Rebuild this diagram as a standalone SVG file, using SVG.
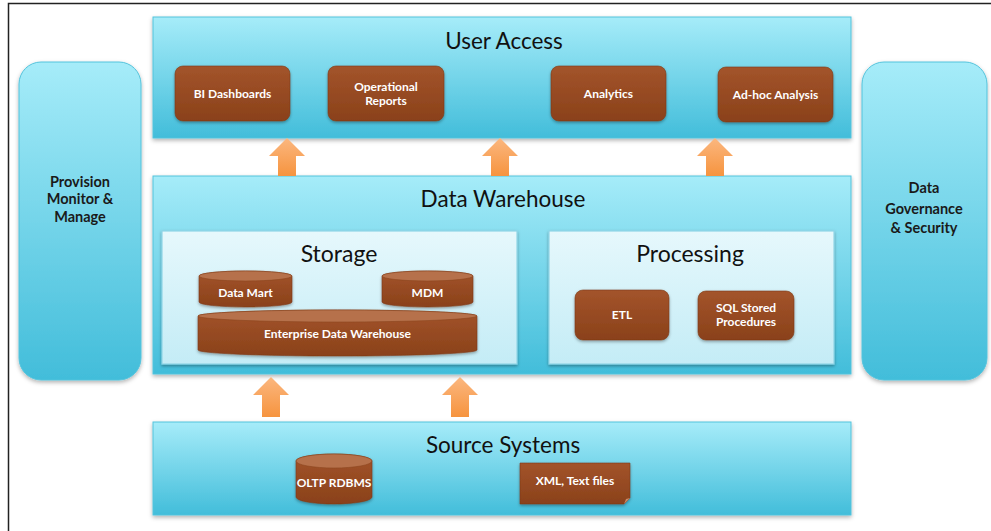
<svg xmlns="http://www.w3.org/2000/svg" width="991" height="531" viewBox="0 0 991 531">
  <defs>
    <linearGradient id="cyan" x1="0" y1="0" x2="0" y2="1">
      <stop offset="0" stop-color="#a6ecf9"/>
      <stop offset="1" stop-color="#42bdda"/>
    </linearGradient>
    <linearGradient id="pale" x1="0" y1="0" x2="0" y2="1">
      <stop offset="0" stop-color="#e6f8fc"/>
      <stop offset="1" stop-color="#c4ecf6"/>
    </linearGradient>
    <linearGradient id="brown" x1="0" y1="0" x2="0" y2="1">
      <stop offset="0" stop-color="#a3542b"/>
      <stop offset="1" stop-color="#8a411a"/>
    </linearGradient>
    <linearGradient id="orange" x1="0" y1="0" x2="0" y2="1">
      <stop offset="0" stop-color="#fbb77f"/>
      <stop offset="1" stop-color="#f6943f"/>
    </linearGradient>
    <filter id="shadow" x="-10%" y="-10%" width="120%" height="130%">
      <feDropShadow dx="0" dy="2" stdDeviation="2" flood-color="#000" flood-opacity="0.3"/>
    </filter>
    <filter id="soft" x="-10%" y="-10%" width="120%" height="130%">
      <feDropShadow dx="0" dy="1.5" stdDeviation="1.5" flood-color="#000" flood-opacity="0.35"/>
    </filter>
  </defs>
  <style>
    .layer { fill: url(#cyan); stroke: #53c3dc; stroke-width: 1; filter: url(#shadow); }
    .inner { fill: url(#pale); stroke: #8fd5e7; stroke-width: 1.2; filter: url(#soft); }
    .box { fill: url(#brown); stroke: #7d3a17; stroke-width: 0.6; filter: url(#soft); }
    .cyltop { fill: #b6714b; stroke: #8c451f; stroke-width: 0.6; }
    .arrow { fill: url(#orange); }
    .title { font-family: Lato, "Open Sans", sans-serif; font-size: 22.5px; fill: #111; text-anchor: middle; }
    .sub { font-family: Lato, "Open Sans", sans-serif; font-size: 23px; fill: #111; text-anchor: middle; }
    .side { font-family: Lato, "Open Sans", sans-serif; font-size: 14.5px; font-weight: bold; fill: #1a1a1a; text-anchor: middle; }
    .lbl { font-family: Lato, "Open Sans", sans-serif; font-size: 12px; font-weight: bold; fill: #fff; text-anchor: middle; }
  </style>

  <rect width="991" height="531" fill="#fff"/>
  <!-- frame -->
  <path d="M8.5,531 V3.5 H991" fill="none" stroke="#222" stroke-width="1.5"/>

  <!-- side panels -->
  <g id="provision">
    <rect class="layer" x="19" y="62" width="122" height="318" rx="22"/>
    <text class="side" x="80" y="187">Provision</text>
    <text class="side" x="80" y="204">Monitor &amp;</text>
    <text class="side" x="80" y="222">Manage</text>
  </g>
  <g id="governance">
    <rect class="layer" x="862" y="62" width="125" height="318" rx="22"/>
    <text class="side" x="924" y="193">Data</text>
    <text class="side" x="924" y="214">Governance</text>
    <text class="side" x="924" y="233">&amp; Security</text>
  </g>

  <!-- user access layer -->
  <g id="user-access">
    <rect class="layer" x="153" y="17" width="698" height="121"/>
    <text class="title" x="504" y="49">User Access</text>
  </g>
  <g id="bi-dashboards">
    <rect class="box" x="175" y="66" width="115" height="55" rx="8"/>
    <text class="lbl" x="232.5" y="98">BI Dashboards</text>
  </g>
  <g id="operational-reports">
    <rect class="box" x="328" y="66" width="116" height="55" rx="8"/>
    <text class="lbl" x="386" y="91">Operational</text>
    <text class="lbl" x="386" y="105">Reports</text>
  </g>
  <g id="analytics">
    <rect class="box" x="551" y="66" width="115" height="55" rx="8"/>
    <text class="lbl" x="608.5" y="98">Analytics</text>
  </g>
  <g id="adhoc-analysis">
    <rect class="box" x="718" y="67" width="115" height="55" rx="8"/>
    <text class="lbl" x="775.5" y="99">Ad-hoc Analysis</text>
  </g>

  <!-- data warehouse layer -->
  <g id="data-warehouse">
    <rect class="layer" x="153" y="176" width="698" height="198"/>
    <text class="title" x="503" y="207">Data Warehouse</text>
  </g>
  <g id="storage">
    <rect class="inner" x="162" y="231" width="355" height="133"/>
    <text class="sub" x="339" y="262">Storage</text>
  </g>
  <g id="data-mart">
    <path class="box" d="M199,276 A46.5,5 0 0 1 292,276 V302 A46.5,5 0 0 1 199,302 Z"/>
    <ellipse class="cyltop" cx="245.5" cy="276" rx="46.5" ry="5"/>
    <text class="lbl" x="245.5" y="297">Data Mart</text>
  </g>
  <g id="mdm">
    <path class="box" d="M382,276 A45.5,5 0 0 1 473,276 V302 A45.5,5 0 0 1 382,302 Z"/>
    <ellipse class="cyltop" cx="427.5" cy="276" rx="45.5" ry="5"/>
    <text class="lbl" x="427.5" y="297">MDM</text>
  </g>
  <g id="enterprise-dw">
    <path class="box" d="M198,316 A139.5,6 0 0 1 477,316 V350 A139.5,6 0 0 1 198,350 Z"/>
    <ellipse class="cyltop" cx="337.5" cy="316" rx="139.5" ry="6"/>
    <text class="lbl" x="337.5" y="338">Enterprise Data Warehouse</text>
  </g>
  <g id="processing">
    <rect class="inner" x="549" y="231" width="285" height="133"/>
    <text class="sub" x="690" y="262">Processing</text>
  </g>
  <g id="etl">
    <rect class="box" x="575" y="290" width="94" height="50" rx="8"/>
    <text class="lbl" x="622" y="319">ETL</text>
  </g>
  <g id="sql-procedures">
    <rect class="box" x="698" y="291" width="96" height="49" rx="8"/>
    <text class="lbl" x="746" y="312">SQL Stored</text>
    <text class="lbl" x="746" y="326">Procedures</text>
  </g>

  <!-- source systems layer -->
  <g id="source-systems">
    <rect class="layer" x="153" y="422" width="698" height="93"/>
    <text class="title" x="503" y="453">Source Systems</text>
  </g>
  <g id="oltp-rdbms">
    <path class="box" d="M296,461 A38,7 0 0 1 372,461 V497 A38,7 0 0 1 296,497 Z"/>
    <ellipse class="cyltop" cx="334" cy="461" rx="38" ry="7"/>
    <text class="lbl" x="334" y="487">OLTP RDBMS</text>
  </g>
  <g id="xml-text-files">
    <path class="box" d="M520,463 H630 V498 L624,504 H520 Z"/>
    <path d="M624,504 L626,499 L630,498 Z" fill="#c98a68"/>
    <text class="lbl" x="575" y="485">XML, Text files</text>
  </g>

  <!-- connectors: upward block arrows between layers -->
  <g id="connectors">
    <path class="arrow" d="M287,138 L305,156 H296 V176 H278 V156 H269 Z"/>
    <path class="arrow" d="M500,138 L518,156 H509 V176 H491 V156 H482 Z"/>
    <path class="arrow" d="M715,138 L733,156 H724 V176 H706 V156 H697 Z"/>
    <path class="arrow" d="M271,377 L289,395 H280 V417 H262 V395 H253 Z"/>
    <path class="arrow" d="M460,377 L478,395 H469 V417 H451 V395 H442 Z"/>
  </g>
</svg>
